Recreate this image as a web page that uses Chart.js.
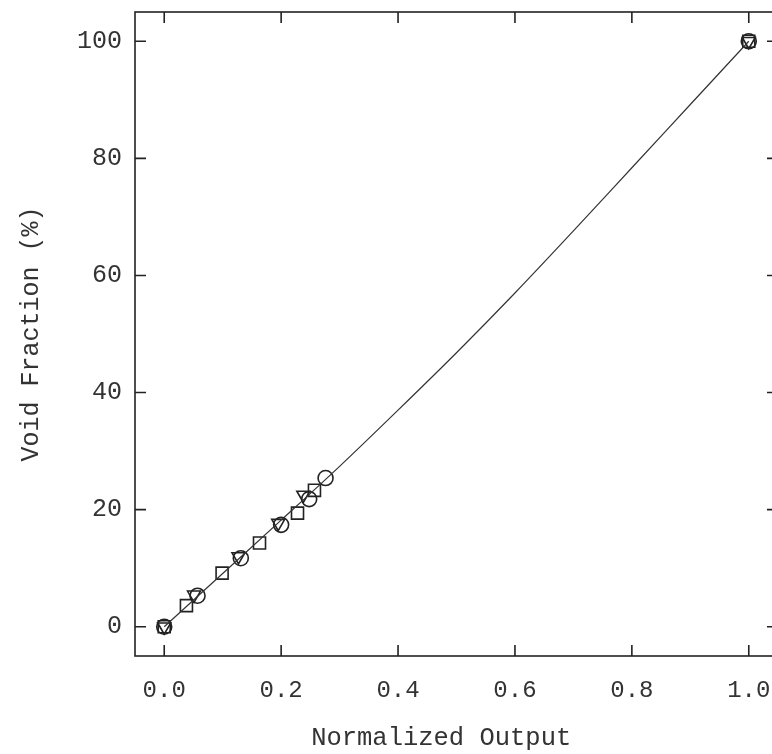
<!DOCTYPE html>
<html>
<head>
<meta charset="utf-8">
<script src="https://cdn.jsdelivr.net/npm/chart.js@4.4.1/dist/chart.umd.min.js"></script>
<style>
  html, body { margin: 0; padding: 0; background: #fff; overflow: hidden; }
  #wrap { width: 800px; height: 754px; }
</style>
</head>
<body>
<div id="wrap"><canvas id="chart" width="800" height="754"></canvas></div>
<script>
// Fitted curve
const fitX = [0, 0.1, 0.2, 0.3, 0.4, 0.5, 0.6, 0.7, 0.8, 0.9, 1.0];
const fitY = [0, 9.1, 18.2, 27.4, 37.0, 46.8, 57.0, 67.6, 78.4, 89.2, 100];

// Measured points, three runs
const circX = [0, 0.057, 0.131, 0.200, 0.248, 0.276, 1.0];
const circY = [0, 5.3, 11.7, 17.4, 21.8, 25.4, 100];
const sqX = [0, 0.038, 0.099, 0.163, 0.228, 0.257, 1.0];
const sqY = [0, 3.6, 9.15, 14.3, 19.4, 23.3, 100];
const triX = [0, 0.051, 0.127, 0.195, 0.238, 1.0];
const triY = [0, 5.45, 12.0, 17.7, 22.5, 100];

// Tick labels
const xTicks = [0, 0.2, 0.4, 0.6, 0.8, 1.0];
const yTicks = [0, 20, 40, 60, 80, 100];

const ink = '#222';
const textColor = '#333';
const fontFamily = '"Liberation Mono", "DejaVu Sans Mono", monospace';

function pts(xs, ys) {
    return xs.map((x, i) => ({ x: x, y: ys[i] }));
}

// box round the plot with inward ticks on every side
const frameTicks = {
    id: 'frameTicks',
    afterDraw(chart) {
        const ctx = chart.ctx;
        const a = chart.chartArea;
        const xs = chart.scales.x, ys = chart.scales.y;
        const len = 11;
        ctx.save();
        ctx.strokeStyle = ink;
        ctx.lineWidth = 1.6;
        ctx.strokeRect(a.left, a.top, a.right - a.left, a.bottom - a.top);
        ctx.beginPath();
        xs.ticks.forEach(t => {
            const px = xs.getPixelForValue(t.value);
            ctx.moveTo(px, a.bottom); ctx.lineTo(px, a.bottom - len);
            ctx.moveTo(px, a.top); ctx.lineTo(px, a.top + len);
        });
        ys.ticks.forEach(t => {
            const py = ys.getPixelForValue(t.value);
            ctx.moveTo(a.left, py); ctx.lineTo(a.left + len, py);
            ctx.moveTo(a.right, py); ctx.lineTo(a.right - len, py);
        });
        ctx.stroke();
        ctx.restore();
    }
};

const ctx = document.getElementById('chart').getContext('2d');
const chart = new Chart(ctx, {
    type: 'scatter',
    data: {
        datasets: [
            {
                label: 'fit',
                data: pts(fitX, fitY),
                showLine: true,
                cubicInterpolationMode: 'monotone',
                borderColor: '#333',
                borderWidth: 1.2,
                pointRadius: 0
            },
            {
                label: 'circles',
                data: pts(circX, circY),
                pointStyle: 'circle',
                pointRadius: 7.5,
                borderColor: ink,
                borderWidth: 1.6,
                backgroundColor: 'rgba(0,0,0,0)'
            },
            {
                label: 'squares',
                data: pts(sqX, sqY),
                pointStyle: 'rect',
                pointRadius: 8.5,
                borderColor: ink,
                borderWidth: 1.6,
                backgroundColor: 'rgba(0,0,0,0)'
            },
            {
                label: 'triangles',
                data: pts(triX, triY),
                pointStyle: 'triangle',
                rotation: 180,
                pointRadius: 7.5,
                borderColor: ink,
                borderWidth: 1.6,
                backgroundColor: 'rgba(0,0,0,0)'
            }
        ]
    },
    options: {
        responsive: false,
        animation: false,
        layout: { padding: { top: 12, right: 22, left: 0, bottom: 0 } },
        plugins: {
            legend: { display: false },
            tooltip: { enabled: false }
        },
        scales: {
            x: {
                type: 'linear',
                min: -0.05,
                max: 1.05,
                afterBuildTicks: s => { s.ticks = xTicks.map(v => ({ value: v })); },
                afterFit: s => { s.height = 98; s.paddingLeft = 0; s.paddingRight = 0; },
                grid: { display: false },
                border: { display: false },
                ticks: {
                    padding: 12,
                    color: textColor,
                    font: { family: fontFamily, size: 24 },
                    callback: v => Number(v).toFixed(1)
                },
                title: {
                    display: true,
                    text: 'Normalized Output  ',
                    color: textColor,
                    font: { family: fontFamily, size: 25.5 },
                    padding: { top: 0, bottom: 0 }
                }
            },
            y: {
                type: 'linear',
                min: -5,
                max: 105,
                afterBuildTicks: s => { s.ticks = yTicks.map(v => ({ value: v })); },
                afterFit: s => { s.width = 135; s.paddingTop = 0; s.paddingBottom = 0; },
                grid: { display: false },
                border: { display: false },
                ticks: {
                    padding: 5,
                    color: textColor,
                    font: { family: fontFamily, size: 25 },
                    callback: v => String(v)
                },
                title: {
                    display: true,
                    text: 'Void Fraction (%)',
                    color: textColor,
                    font: { family: fontFamily, size: 25 },
                    padding: { top: 16, bottom: 0 }
                }
            }
        }
    },
    plugins: [frameTicks]
});
</script>
</body>
</html>
